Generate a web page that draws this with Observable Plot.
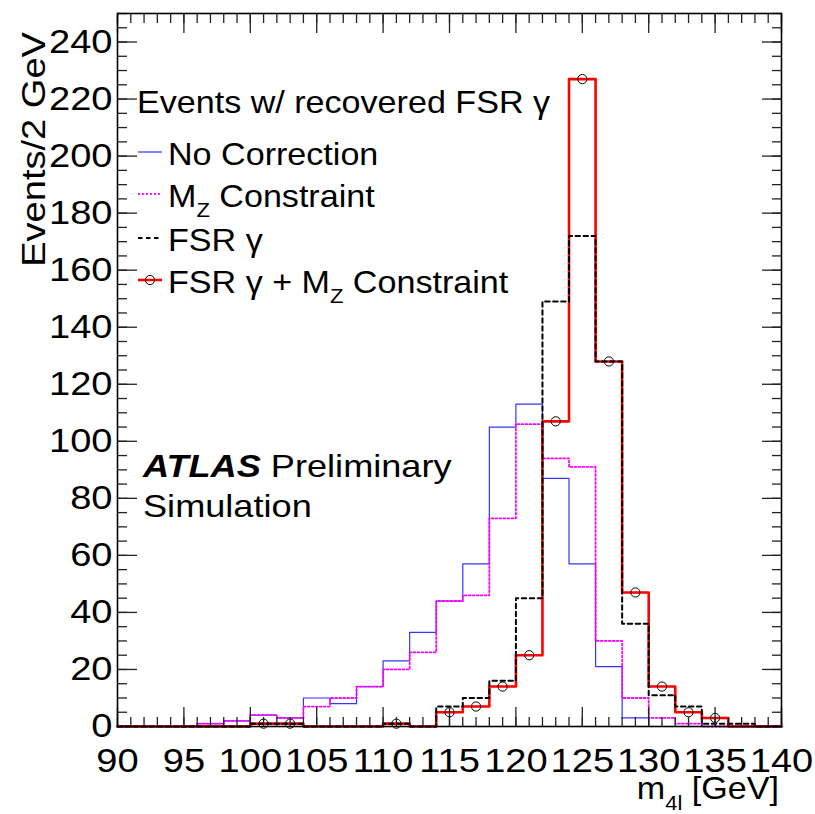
<!DOCTYPE html>
<html><head><meta charset="utf-8">
<script src="https://cdn.jsdelivr.net/npm/d3@7"></script>
<script src="https://cdn.jsdelivr.net/npm/@observablehq/plot@0.6"></script>
<style>body{margin:0;background:#fff}#chart{width:815px;height:814px}</style>
</head><body><div id="chart"></div>
<script>
// Bin lower edges (GeV), 2 GeV bins
const binEdges = [90,92,94,96,98,100,102,104,106,108,110,112,114,116,118,120,122,124,126,128,130,132,134,136,138];
const binWidth = 2;
// Events per bin
const noCorrection = [0,0,0,1,2,4,3,10,8,14,23,33,44,57,105,113,87,57,21,3,0,0,0,0,0];
const mzConstraint = [0,0,0,1,2,4,3,7,10,14,20,26,44,46,73,106,94,91,30,10,3,1,0,0,0];
const fsrGamma     = [0,0,0,0,0,1,1,0,0,0,1,0,7,10,16,45,149,172,128,36,11,7,1,1,0];
const fsrGammaMz   = [0,0,0,0,0,1,1,0,0,0,1,0,5,7,14,25,107,227,128,47,14,5,3,0,0];
// Axis ticks
const xMajorTicks = [90,95,100,105,110,115,120,125,130,135,140];
const xMinorTicks = d3.range(90, 141, 1);
const yMajorTicks = [0,20,40,60,80,100,120,140,160,180,200,220,240];
const yMinorTicks = d3.range(0, 251, 5);
// Texts
const legendTitle = "Events w/ recovered FSR \u03b3";
const legendLabels = ["No Correction", "M|Z| Constraint", "FSR \u03b3", "FSR \u03b3 + M|Z| Constraint"];
const yTitle = "Events/2 GeV";

function stepData(values) {
  const pts = binEdges.map((x, i) => ({x, y: values[i]}));
  pts.push({x: binEdges[binEdges.length - 1] + binWidth, y: values[values.length - 1]});
  return pts;
}
const redPoints = binEdges.map((e, i) => ({x: e + binWidth / 2, y: fsrGammaMz[i]})).filter(d => d.y > 0);

const FONT = "'Liberation Sans', Arial, Helvetica, sans-serif";
const tickStroke = {stroke: "#222", strokeWidth: 1.3, label: null, tickFormat: () => ""};

const chart = Plot.plot({
  width: 815, height: 814,
  marginLeft: 117, marginRight: 34, marginTop: 13, marginBottom: 88,
  style: {fontFamily: FONT, fontSize: "34px", background: "white", overflow: "visible"},
  x: {domain: [90, 140], axis: null, label: null},
  y: {domain: [0, 250], axis: null, label: null},
  marks: [
    Plot.line(stepData(noCorrection), {x: "x", y: "y", curve: "step-after", stroke: "#3535ff", strokeWidth: 1.2}),
    Plot.line(stepData(mzConstraint), {x: "x", y: "y", curve: "step-after", stroke: "#ff00ff", strokeWidth: 1.8, strokeDasharray: "1.8,2.2"}),
    Plot.line(stepData(fsrGammaMz), {x: "x", y: "y", curve: "step-after", stroke: "#ff0000", strokeWidth: 2.6}),
    Plot.line(stepData(fsrGamma), {x: "x", y: "y", curve: "step-after", stroke: "#000", strokeWidth: 2, strokeDasharray: "4.5,3.5"}),
    Plot.dot(redPoints, {x: "x", y: "y", r: 4.6, stroke: "#000", strokeWidth: 1, fill: "none"}),
    // inward ticks on all four sides
    Plot.axisX(xMinorTicks, {anchor: "bottom", tickSize: -9, ...tickStroke}),
    Plot.axisX(xMajorTicks, {anchor: "bottom", tickSize: -19, ...tickStroke}),
    Plot.axisX(xMinorTicks, {anchor: "top", tickSize: -9, ...tickStroke}),
    Plot.axisX(xMajorTicks, {anchor: "top", tickSize: -19, ...tickStroke}),
    Plot.axisY(yMinorTicks, {anchor: "left", tickSize: -10, ...tickStroke}),
    Plot.axisY(yMajorTicks, {anchor: "left", tickSize: -20, ...tickStroke}),
    Plot.axisY(yMinorTicks, {anchor: "right", tickSize: -10, ...tickStroke}),
    Plot.axisY(yMajorTicks, {anchor: "right", tickSize: -20, ...tickStroke}),
    // tick labels
    Plot.axisX(xMajorTicks, {anchor: "bottom", tickSize: 0, tickPadding: 21, fontSize: 34, label: null, fill: "#000"}),
    Plot.axisY(yMajorTicks, {anchor: "left", tickSize: 0, tickPadding: 5, fontSize: 34, label: null, fill: "#000"}),
    Plot.frame({stroke: "#000", strokeWidth: 1.6})
  ]
});
document.getElementById("chart").appendChild(chart);

const svg = d3.select(chart);
// Stretch tick labels horizontally (reference font is wider)
svg.selectAll("g[aria-label$='tick label'] text").each(function() {
  const t = this.getAttribute("transform");
  if (t) this.setAttribute("transform", t + " scale(1.12,1)");
  else {
    const x = this.getAttribute("x") || 0, y = this.getAttribute("y") || 0;
    this.removeAttribute("x"); this.removeAttribute("y");
    this.setAttribute("transform", `translate(${x},${y}) scale(1.12,1)`);
  }
});

const ann = svg.append("g").attr("font-family", FONT).attr("fill", "#000").attr("text-anchor", "start");

function richText(g, label, size, subSize, subDy) {
  const parts = label.split("|");
  const t = g.append("text").attr("font-size", size).attr("text-anchor", "start");
  parts.forEach((p, i) => {
    if (!p) return;
    const s = t.append("tspan").text(p);
    if (i % 2 === 1) s.attr("font-size", subSize).attr("dy", subDy);
    else if (i > 0) s.attr("dy", -subDy);
  });
  return t;
}

// Y title
ann.append("text").attr("transform", "translate(45,32) rotate(-90) scale(1.12,1)")
  .attr("text-anchor", "end").attr("font-size", 34).text(yTitle);
// X title
const xt = ann.append("text").attr("transform", "translate(779,799) scale(1.1,1)")
  .attr("text-anchor", "end").attr("font-size", 31);
xt.append("tspan").text("m");
xt.append("tspan").attr("font-size", 20).attr("dy", 11).text("4l");
xt.append("tspan").attr("dy", -11).text(" [GeV]");

// Legend
ann.append("g").attr("transform", "translate(137,113) scale(1.1,1)")
  .append("text").attr("font-size", 31).attr("text-anchor", "start").text(legendTitle);
const rowY = [165, 207, 251, 293];
const sampleStyles = [
  {stroke: "#3535ff", w: 1.2, dash: null},
  {stroke: "#ff00ff", w: 1.8, dash: "1.8,2.2"},
  {stroke: "#000", w: 2, dash: "4.5,3.5"},
  {stroke: "#ff0000", w: 2.6, dash: null}
];
legendLabels.forEach((lab, i) => {
  const ly = rowY[i] - 13;
  const st = sampleStyles[i];
  ann.append("line").attr("x1", 138).attr("x2", 162).attr("y1", ly).attr("y2", ly)
    .attr("stroke", st.stroke).attr("stroke-width", st.w).attr("stroke-dasharray", st.dash);
  if (i === 3) ann.append("circle").attr("cx", 150).attr("cy", ly).attr("r", 4.6)
    .attr("fill", "none").attr("stroke", "#000").attr("stroke-width", 1);
  const g = ann.append("g").attr("transform", `translate(168,${rowY[i]}) scale(1.1,1)`);
  richText(g, lab, 31, 20, 10);
});

// ATLAS label
const at = ann.append("g").attr("transform", "translate(143,477) scale(1.13,1)")
  .append("text").attr("font-size", 32).attr("text-anchor", "start");
at.append("tspan").attr("font-weight", "bold").attr("font-style", "italic").text("ATLAS");
at.append("tspan").text(" Preliminary");
ann.append("g").attr("transform", "translate(143,517) scale(1.13,1)")
  .append("text").attr("font-size", 32).attr("text-anchor", "start").text("Simulation");
</script></body></html>
